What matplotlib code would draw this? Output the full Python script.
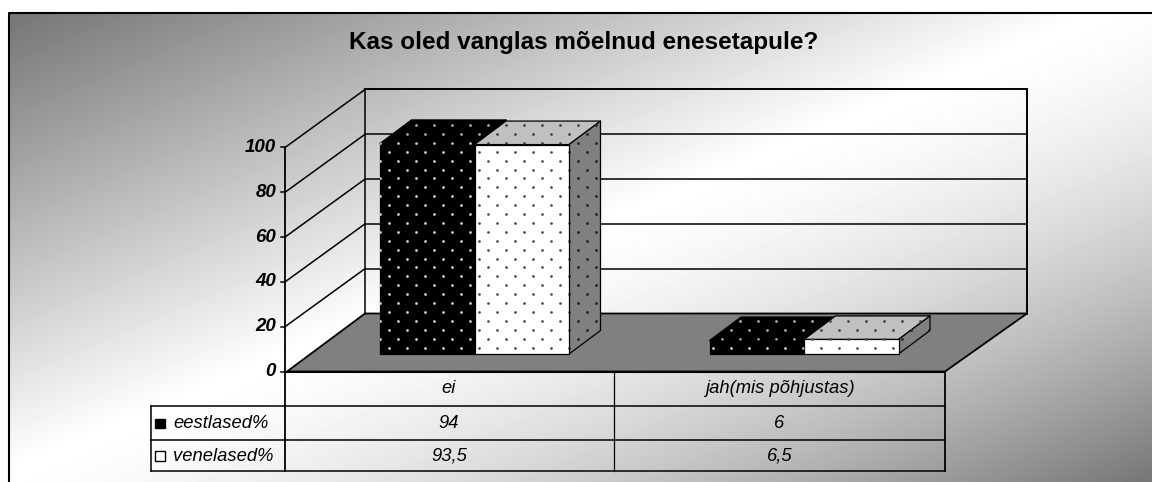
import numpy as np
import matplotlib
matplotlib.use("Agg")
import matplotlib.pyplot as plt
from matplotlib.patches import Polygon, Rectangle

plt.rcParams["font.family"] = ["Liberation Sans", "DejaVu Sans"]

# Data
title = "Kas oled vanglas mõelnud enesetapule?"
categories = ["ei", "jah(mis põhjustas)"]
series_names = ["eestlased%", "venelased%"]
eestlased = [94, 6]
venelased = [93.5, 6.5]
y_ticks = [0, 20, 40, 60, 80, 100]

W, H = 1152, 482
fig = plt.figure(figsize=(W / 100, H / 100), dpi=100)
ax = fig.add_axes([0, 0, 1, 1])
ax.set_xlim(0, W)
ax.set_ylim(H, 0)
ax.axis("off")

# Layout of the fake 3D box, in pixels
x0, x1 = 285, 945
y0 = 371.5
unit = 2.24
dx, dy = 80, 58
bar_w = 94.5
bar_dx, bar_dy = 31.5, 23.5
base_y = 354
starts = [380, 709.5]
table_left = 151
row_lines = [406, 440, 471]
mid_x = 614


def val_y(v):
    return y0 - v * unit


# Background gradient, white band running along the diagonal
xx, yy = np.meshgrid(np.arange(9, W), np.arange(13, H))
t = (420 * xx + 1000 * yy) / 963000
d = (t - 0.49) * 2
bg = np.where(d < 0, 1 - 0.57 * np.abs(d), 1 - 0.52 * np.abs(d) ** 1.5)
ax.imshow(bg, extent=[9, W, H, 13], cmap="gray", vmin=0, vmax=1,
          aspect="auto", zorder=0, interpolation="bilinear")
ax.set_xlim(0, W)
ax.set_ylim(H, 0)

# Chart frame
ax.plot([9, 9, W], [H, 13, 13], color="black", lw=1.5, zorder=1)

# Floor
ax.add_patch(Polygon([(x0 + 2, y0), (x0 + dx, y0 - dy), (1027, y0 - dy), (x1, y0)],
                     fc="#808080", ec="black", lw=1.3, zorder=2))

# Walls and gridlines
for v in y_ticks:
    y = val_y(v)
    if v > 0:
        ax.plot([x0, x0 + dx], [y, y - dy], color="black", lw=1.1, zorder=2)
        ax.plot([x0 + dx, 1027], [y - dy, y - dy], color="black", lw=1.1 if v < 100 else 1.4, zorder=2)
    ax.plot([x0 - 4, x0], [y, y], color="black", lw=1.1, zorder=2)
    ax.text(x0 - 9, y, str(v), ha="right", va="center", fontsize=13.5,
            fontweight="bold", fontstyle="italic", color="black", zorder=5)
ax.plot([x0, x0], [val_y(100), row_lines[-1]], color="black", lw=1.3, zorder=2)
ax.plot([x0 + dx, x0 + dx], [val_y(100) - dy, y0 - dy], color="black", lw=1.1, zorder=2)
ax.plot([1027, 1027], [val_y(100) - dy, y0 - dy], color="black", lw=1.4, zorder=2)


def dotted(points, fc, dot, z):
    # polygon with the dotted pattern clipped to it
    poly = Polygon(points, fc=fc, ec="black", lw=0.9, zorder=z, joinstyle="round")
    ax.add_patch(poly)
    gx, gy = [], []
    for row in range(32):
        off = 0 if row % 2 else 9
        for x in np.arange(353 + off, 940, 18):
            gx.append(x)
            gy.append(89.4 + row * 8.9)
    dots = ax.scatter(gx, gy, s=4, color=dot, linewidths=0, zorder=z + 0.1)
    dots.set_clip_path(poly)


def bar3d(left, value, front, top, side, dot_front, dot_top, dot_side, z):
    right = left + bar_w
    ytop = base_y - value * unit
    dotted([(left + bar_dx, ytop - bar_dy), (right + bar_dx, ytop - bar_dy), (right, ytop), (left, ytop)],
           top, dot_top, z)
    dotted([(right, ytop), (right + bar_dx, ytop - bar_dy), (right + bar_dx, base_y - bar_dy), (right, base_y)],
           side, dot_side, z)
    dotted([(left, ytop), (right, ytop), (right, base_y), (left, base_y)],
           front, dot_front, z + 1)


for i, (a, b) in enumerate(zip(eestlased, venelased)):
    bar3d(starts[i], a, "black", "black", "black", "#cccccc", "#aaaaaa", "#aaaaaa", 3)
    bar3d(starts[i] + bar_w, b, "white", "#c0c0c0", "#808080", "#555555", "#444444", "#222222", 4)

# Data table
ax.plot([x0, x1], [y0, y0], color="black", lw=1.5, zorder=6)
for y in row_lines:
    ax.plot([table_left, x1], [y, y], color="black", lw=1.1, zorder=6)
ax.plot([table_left, table_left], [row_lines[0], row_lines[-1]], color="black", lw=1.1, zorder=6)
ax.plot([mid_x, mid_x], [y0, row_lines[-1]], color="black", lw=0.9, zorder=6)
ax.plot([x1, x1], [y0, row_lines[-1]], color="black", lw=1.3, zorder=6)

col_centres = [(x0 + mid_x) / 2 - 0.5, (mid_x + x1) / 2]
text_kw = dict(ha="center", va="center", fontsize=13.2, fontstyle="italic", color="black", zorder=7)
for cx, cat, a, b in zip(col_centres, categories, eestlased, venelased):
    ax.text(cx, (y0 + row_lines[0]) / 2 - 0.5, cat, **text_kw)
    ax.text(cx, (row_lines[0] + row_lines[1]) / 2 + 1, str(a).replace(".", ","), **text_kw)
    ax.text(cx, (row_lines[1] + row_lines[2]) / 2 + 0.5, str(b).replace(".", ","), **text_kw)

# Legend keys inside the table
swatches = ["black", "white"]
for i, name in enumerate(series_names):
    yc = (row_lines[i] + row_lines[i + 1]) / 2
    ax.add_patch(Rectangle((155, yc - 4.5), 9.5, 9.5, fc=swatches[i], ec="black", lw=1.0, zorder=7))
    ax.text(173, yc + 1, name, ha="left", va="center", fontsize=13.2, fontstyle="italic", zorder=7)

ax.text(583.5, 42, title, ha="center", va="center", fontsize=17.5, fontweight="bold", color="black", zorder=7)

fig.savefig("out.png", dpi=100)
